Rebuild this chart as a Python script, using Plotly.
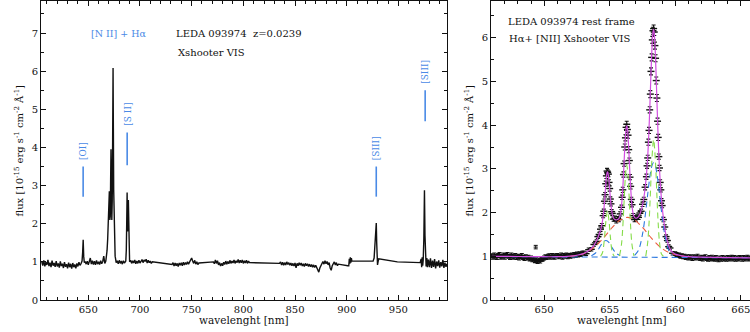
import numpy as np
import plotly.graph_objects as go

# ---------------- Xshooter VIS spectrum (observed frame) ----------------
z = 0.0239

cont_a = [1.01, 0.90, 1.04, 0.88, 0.99, 0.92, 1.05, 0.89, 0.98, 0.86, 1.03, 0.90, 0.97, 0.87,
          1.02, 0.88, 0.96, 0.85, 1.01, 0.89, 0.95, 0.84, 0.99, 0.87, 0.94, 0.83, 0.98, 0.86,
          0.95, 0.82, 0.97, 0.86, 0.93, 0.83, 0.96, 0.88, 0.99, 0.91]            # 605-642
oi_wave = [643.0, 644.0, 644.6, 645.1, 645.6, 646.2, 647.0]
oi_flux = [0.95, 1.02, 1.25, 1.58, 1.15, 0.98, 1.01]
cont_b = [0.94, 1.02, 0.92, 1.01, 1.10, 0.94, 1.03, 0.93, 1.02, 0.92, 1.04, 0.94, 1.00, 0.93,
          1.03, 0.95, 1.01, 1.15, 0.96, 1.02]                                      # 648-667
ha_obs_wave = [667.6, 668.2, 668.8, 669.4, 669.9, 670.4, 670.9, 671.3, 671.6, 672.0, 672.4,
               672.8, 673.2, 673.6, 674.0, 674.3, 674.6, 675.0, 675.5, 676.0, 676.6, 677.0]
ha_obs_flux = [1.12, 1.30, 1.60, 2.00, 2.40, 2.85, 2.10, 2.20, 3.00, 3.95, 2.90,
               2.10, 2.60, 4.20, 6.08, 4.50, 2.90, 2.00, 1.40, 1.15, 1.05, 0.98]
cont_c = [1.03, 0.95, 1.04, 0.96, 1.02, 0.94, 1.03, 0.97]                          # 678-685
sii_wave = [686.3, 686.8, 687.2, 687.6, 688.0, 688.4, 688.8, 689.2, 689.6, 690.0]
sii_flux = [1.02, 1.30, 2.00, 2.82, 1.80, 1.90, 2.62, 1.70, 1.15, 1.00]
cont_d = [1.04, 0.96, 1.03, 0.97, 1.05, 0.95, 1.02, 0.96, 1.04, 0.97, 1.01, 1.06, 0.98, 1.05,
          1.01, 1.07, 0.97, 1.04, 0.98, 1.02, 0.96, 1.00]                          # 691-712
cont_e = [0.93, 0.98, 0.89, 0.97, 0.90, 0.96, 0.88, 0.97, 0.91, 0.98, 0.90, 0.99, 0.92, 0.98,
          0.93, 1.00, 0.94, 1.01, 1.07, 1.10, 1.02, 0.96, 1.04, 0.94, 1.00, 0.93, 0.97]  # 731-757
cont_f = [1.00, 0.95, 1.05, 0.96, 1.03, 0.92, 0.98, 0.89, 0.96, 0.90, 0.99, 0.93, 1.02, 0.94,
          1.01, 0.95, 1.04, 0.96, 1.02, 0.97, 1.05, 0.96, 1.03, 0.98, 1.06, 0.97, 1.04, 0.98,
          1.05, 0.96, 1.03, 0.97, 1.04, 0.96, 1.02, 0.98]                          # 771-806
cont_g = [0.96, 1.00, 0.92, 0.99, 0.91, 0.98, 0.92, 1.00, 0.93, 0.98, 0.91, 0.97, 0.90, 0.96,
          0.89, 0.97, 0.84, 0.96, 0.90, 0.98, 0.91, 0.97, 0.89, 0.95, 0.88, 0.96, 0.90, 0.95,
          0.88, 0.94, 0.87, 0.93, 0.86, 0.92, 0.85, 0.91, 0.84, 0.80, 0.73, 0.84, 0.90, 0.96,
          1.01, 0.94, 1.03, 0.95, 1.01, 0.92, 0.98, 0.84, 0.78, 0.90, 0.96, 1.00, 0.92, 0.98,
          0.90, 0.94]                                                              # 835-892
red_wave = [901.0, 902.0, 902.5, 903.0, 903.5, 904.0, 904.5, 905.0, 906.0, 925.5, 926.5,
            927.0, 927.5, 928.0, 928.6, 929.0, 929.4, 929.8, 930.3, 931.0, 949.0, 971.0,
            972.0, 972.5, 973.0, 973.5, 974.0, 974.6, 975.2, 975.7, 976.2, 976.8, 977.5, 978.0]
red_flux = [0.90, 0.90, 1.08, 0.95, 1.12, 0.98, 1.10, 1.02, 1.02, 1.02, 1.10,
            1.30, 1.45, 1.60, 2.02, 1.50, 1.20, 0.92, 1.00, 1.08, 1.00, 0.98,
            1.08, 0.86, 1.12, 0.90, 1.05, 1.60, 2.88, 1.70, 1.15, 0.88, 1.10, 0.86]
cont_h = [1.06, 0.86, 1.09, 0.84, 1.03, 0.87, 1.07, 0.83, 1.01, 0.89, 1.04, 0.85, 0.99, 0.88,
          1.05, 0.84, 0.98, 0.87, 0.95]                                            # 979-997

vis_wave = (list(range(605, 643)) + oi_wave + list(range(648, 668)) + ha_obs_wave
            + list(range(678, 686)) + sii_wave + list(range(691, 713))
            + list(range(731, 758)) + list(range(771, 807)) + list(range(835, 893))
            + red_wave + list(range(979, 998)))
vis_flux = (cont_a + oi_flux + cont_b + ha_obs_flux + cont_c + sii_flux + cont_d
            + cont_e + cont_f + cont_g + red_flux + cont_h)

# emission-line identifications (rest wavelengths, nm)
ident_labels = ["[OI]", "[S II]", "[SIII]", "[SIII]"]
ident_rest_nm = [630.0, 671.6, 906.9, 953.1]

# ---------------- Halpha + [NII] region (rest frame) ----------------
blue_cont_left = [1.01, 0.98, 1.03, 1.00, 0.97, 1.02, 1.04, 0.98, 1.00, 1.03,
                  0.98, 1.02, 1.04, 1.00, 0.97, 1.03, 1.00, 0.98, 1.02, 0.97,
                  1.00, 0.96, 0.99, 1.02, 0.97, 0.95, 0.99, 0.96, 0.98, 0.94,
                  0.96, 0.92, 0.94, 0.90, 0.92, 0.88, 0.91, 0.89, 0.93, 0.94,
                  0.96, 0.99, 0.97, 1.00, 1.01, 0.98, 1.02, 0.99, 0.98, 1.01,
                  1.02, 0.99, 1.00, 1.03, 0.98, 1.02, 1.00, 1.03, 0.99, 1.02,
                  1.00, 1.03, 1.01, 1.04, 1.02, 1.05, 1.03, 1.06, 1.04, 1.07]   # 646.0-652.9
line_wave = [653.0, 653.2, 653.4, 653.6, 653.8, 654.0, 654.1, 654.2, 654.3, 654.4, 654.5,
             654.55, 654.6, 654.65, 654.7, 654.75, 654.8, 654.85, 654.9, 654.95, 655.0,
             655.05, 655.1, 655.15, 655.2, 655.3, 655.4, 655.5, 655.6, 655.7, 655.8, 655.9,
             655.95, 656.0, 656.05, 656.1, 656.15, 656.2, 656.25, 656.3, 656.35, 656.4,
             656.45, 656.5, 656.55, 656.6, 656.65, 656.7, 656.8, 656.9, 657.0, 657.1, 657.2,
             657.3, 657.4, 657.5, 657.6, 657.7, 657.8, 657.85, 657.9, 657.95, 658.0, 658.05,
             658.1, 658.15, 658.2, 658.25, 658.3, 658.35, 658.4, 658.45, 658.5, 658.55,
             658.6, 658.65, 658.7, 658.75, 658.8, 658.85, 658.9, 658.95, 659.0, 659.1, 659.2,
             659.3, 659.4, 659.5, 659.6, 659.8, 660.0]
line_flux = [1.08, 1.06, 1.15, 1.16, 1.27, 1.34, 1.45, 1.50, 1.62, 1.70, 1.93,
             2.03, 2.26, 2.41, 2.66, 2.84, 2.95, 2.92, 2.88, 2.69, 2.55,
             2.31, 2.20, 2.02, 1.98, 1.85, 1.87, 1.81, 1.86, 1.84, 1.97, 2.12,
             2.35, 2.52, 2.87, 3.12, 3.50, 3.71, 3.95, 4.02, 3.90, 3.77,
             3.44, 3.19, 2.81, 2.60, 2.30, 2.18, 1.93, 1.84, 1.85, 1.90, 1.89,
             1.99, 2.03, 2.19, 2.30, 2.58, 2.82, 3.07, 3.25, 3.61, 3.88, 4.35,
             4.71, 5.23, 5.55, 5.95, 6.16, 6.21, 6.13, 5.82, 5.53, 5.02,
             4.62, 4.09, 3.72, 3.28, 3.02, 2.69, 2.52, 2.27, 2.16, 1.84, 1.67,
             1.45, 1.36, 1.22, 1.19, 1.07, 1.06]
line_err = [0.04, 0.04, 0.04, 0.04, 0.04, 0.04, 0.04, 0.05, 0.05, 0.05, 0.05,
            0.05, 0.05, 0.05, 0.06, 0.06, 0.06, 0.06, 0.06, 0.06, 0.06,
            0.05, 0.05, 0.05, 0.05, 0.05, 0.05, 0.05, 0.05, 0.05, 0.05, 0.05,
            0.05, 0.06, 0.06, 0.06, 0.07, 0.07, 0.07, 0.07, 0.07, 0.07,
            0.07, 0.06, 0.06, 0.06, 0.05, 0.05, 0.05, 0.05, 0.05, 0.05, 0.05,
            0.05, 0.05, 0.05, 0.05, 0.06, 0.06, 0.06, 0.06, 0.07, 0.07, 0.07,
            0.08, 0.08, 0.08, 0.08, 0.08, 0.08, 0.08, 0.08, 0.08, 0.08,
            0.08, 0.07, 0.07, 0.06, 0.06, 0.06, 0.05, 0.05, 0.05, 0.05, 0.05,
            0.04, 0.04, 0.04, 0.04, 0.04, 0.04]
red_cont_right = [1.04, 1.02, 1.03, 1.00, 1.01, 0.99, 1.00, 0.97, 0.99,
                  0.96, 0.99, 0.98, 0.95, 0.99, 0.96, 0.98, 1.00, 0.96, 0.95,
                  0.98, 0.94, 0.97, 0.99, 0.95, 0.93, 0.97, 0.94, 0.98, 0.95,
                  0.93, 0.97, 0.94, 0.92, 0.96, 0.93, 0.97, 0.94, 0.96, 0.93,
                  0.97, 0.94, 0.96, 0.98, 0.94, 0.97, 0.93, 0.96, 0.94, 0.97,
                  0.96, 0.93, 0.97, 0.94, 0.96, 0.98, 0.94, 0.96]              # 660.1-665.7
cont_err = 0.045

# single representative error bar
ref_point_wave = [649.36]
ref_point_flux = [1.21]
ref_point_err = [0.04]

# fitted model: total profile and individual components
fit_wave = [646.0, 648.0, 650.0, 651.0, 652.0, 652.5] + line_wave + [660.5, 661.0, 662.0, 664.0, 666.0]
fit_flux = ([1.00, 0.995, 0.99, 0.99, 1.005, 1.024]
            + [1.06, 1.09, 1.13, 1.18, 1.25, 1.36, 1.43, 1.51, 1.60, 1.72, 1.91,
               2.05, 2.23, 2.43, 2.64, 2.81, 2.91, 2.93, 2.85, 2.71, 2.52,
               2.34, 2.17, 2.05, 1.96, 1.87, 1.84, 1.83, 1.84, 1.86, 1.94, 2.15,
               2.32, 2.55, 2.84, 3.16, 3.47, 3.74, 3.92, 3.99, 3.93, 3.74,
               3.47, 3.16, 2.84, 2.57, 2.33, 2.16, 1.96, 1.89, 1.87, 1.88, 1.91,
               1.96, 2.05, 2.17, 2.33, 2.55, 2.85, 3.04, 3.28, 3.57, 3.92, 4.32,
               4.75, 5.19, 5.59, 5.92, 6.13, 6.19, 6.10, 5.85, 5.49, 5.06,
               4.58, 4.12, 3.69, 3.31, 2.99, 2.72, 2.49, 2.30, 2.14, 1.86, 1.65,
               1.47, 1.34, 1.24, 1.17, 1.09, 1.05]
            + [1.01, 0.99, 0.98, 0.97, 0.965])

cont_fit_wave = [646.0, 666.0]
cont_fit_flux = [0.995, 0.965]

broad_ha_wave = [652.0, 653.0, 653.8, 654.5, 655.2, 655.8, 656.35, 656.9, 657.5, 658.2, 658.9, 659.7, 660.7]
broad_ha_flux = [1.00, 1.06, 1.20, 1.41, 1.66, 1.83, 1.89, 1.83, 1.66, 1.41, 1.20, 1.06, 1.00]

nii_a_blue_wave = [653.6, 653.9, 654.1, 654.3, 654.5, 654.7, 654.9, 655.1, 655.3, 655.5, 655.8]
nii_a_blue_flux = [1.01, 1.07, 1.14, 1.24, 1.33, 1.36, 1.33, 1.24, 1.14, 1.07, 1.01]
nii_b_blue_wave = [656.9, 657.2, 657.5, 657.7, 657.9, 658.1, 658.25, 658.35, 658.45, 658.6, 658.8, 659.0, 659.2, 659.5, 659.8]
nii_b_blue_flux = [1.02, 1.14, 1.50, 1.91, 2.42, 2.89, 3.10, 3.14, 3.10, 2.89, 2.42, 1.91, 1.50, 1.14, 1.02]

nii_a_green_wave = [654.3, 654.45, 654.6, 654.7, 654.83, 654.95, 655.05, 655.2, 655.35]
nii_a_green_flux = [1.00, 1.08, 1.41, 1.77, 2.04, 1.81, 1.45, 1.09, 1.00]
ha_green_wave = [655.75, 655.9, 656.0, 656.1, 656.2, 656.3, 656.4, 656.5, 656.6, 656.7, 656.85]
ha_green_flux = [1.01, 1.27, 1.67, 2.26, 2.84, 3.09, 2.84, 2.26, 1.67, 1.27, 1.01]
nii_b_green_wave = [657.75, 657.9, 658.0, 658.1, 658.2, 658.35, 658.5, 658.6, 658.7, 658.8, 658.95, 659.1]
nii_b_green_flux = [1.00, 1.32, 1.75, 2.40, 3.11, 3.67, 3.11, 2.40, 1.75, 1.32, 1.05, 1.00]

# ---------------- styling ----------------
BLACK = "#111111"
ID_BLUE = "#4a8ae6"
COMP_BLUE = "#2b78e0"
COMP_GREEN = "#86dc4a"
COMP_RED = "#ec5a3c"
FIT_MAGENTA = "#d24fe0"
SERIF = "DejaVu Serif"

fig = go.Figure()

fig.add_trace(go.Scatter(x=vis_wave, y=vis_flux, mode="lines",
                         line=dict(color=BLACK, width=1.4), xaxis="x", yaxis="y",
                         showlegend=False, hoverinfo="skip"))

cont_left_wave = np.round(np.arange(646.0, 652.95, 0.1), 2)
cont_right_wave = np.round(np.arange(660.1, 665.75, 0.1), 2)
obs_wave = list(cont_left_wave) + line_wave + list(cont_right_wave)
obs_flux = blue_cont_left + line_flux + red_cont_right
obs_err = [cont_err] * len(blue_cont_left) + line_err + [cont_err] * len(red_cont_right)

fig.add_trace(go.Scatter(
    x=obs_wave, y=obs_flux, mode="markers", xaxis="x2", yaxis="y2",
    marker=dict(symbol="line-ew", size=5, line=dict(color=BLACK, width=1.4), color=BLACK),
    error_y=dict(type="data", array=obs_err, color=BLACK, thickness=1.1, width=2),
    showlegend=False, hoverinfo="skip"))

fig.add_trace(go.Scatter(
    x=ref_point_wave, y=ref_point_flux, mode="markers", xaxis="x2", yaxis="y2",
    marker=dict(symbol="line-ew", size=3, line=dict(color=BLACK, width=1), color=BLACK),
    error_y=dict(type="data", array=ref_point_err, color=BLACK, thickness=1, width=2),
    showlegend=False, hoverinfo="skip"))

components = [
    (cont_fit_wave, cont_fit_flux, COMP_BLUE),
    (nii_a_blue_wave, nii_a_blue_flux, COMP_BLUE),
    (nii_b_blue_wave, nii_b_blue_flux, COMP_BLUE),
    (broad_ha_wave, broad_ha_flux, COMP_RED),
    (nii_a_green_wave, nii_a_green_flux, COMP_GREEN),
    (ha_green_wave, ha_green_flux, COMP_GREEN),
    (nii_b_green_wave, nii_b_green_flux, COMP_GREEN),
]
for wx, fy, col in components:
    fig.add_trace(go.Scatter(x=wx, y=fy, mode="lines", xaxis="x2", yaxis="y2",
                             line=dict(color=col, width=1.1, dash="6px,4px", shape="spline",
                                       smoothing=0.9),
                             showlegend=False, hoverinfo="skip"))

fig.add_trace(go.Scatter(x=fit_wave, y=fit_flux, mode="lines", xaxis="x2", yaxis="y2",
                         line=dict(color=FIT_MAGENTA, width=1.2, shape="spline", smoothing=0.6),
                         showlegend=False, hoverinfo="skip"))

tickfont = dict(family=SERIF, size=10, color=BLACK)


def axis(rng, dtick, minor_dtick, domain, anchor, mirror):
    return dict(range=rng, dtick=dtick, domain=domain, anchor=anchor,
                showline=True, linecolor=BLACK, linewidth=1, mirror=mirror,
                ticks="inside", ticklen=5, tickwidth=1, tickcolor=BLACK,
                minor=dict(ticks="inside", ticklen=3, dtick=minor_dtick, tickcolor=BLACK,
                           showgrid=False),
                showgrid=False, zeroline=False, tickfont=tickfont,
                ticklabeloverflow="allow")


fig.update_layout(
    width=750, height=332,
    margin=dict(l=0, r=0, t=1, b=32),
    plot_bgcolor="white", paper_bgcolor="white",
    xaxis=axis([604.3, 997.0], 50, 10, [41 / 750, 447 / 750], "y", "ticks"),
    yaxis=axis([0, 7.84], 1, 0.5, [0, 1], "x", "ticks"),
    xaxis2=axis([645.95, 665.7], 5, 1, [491 / 750, 1.0], "y2", "ticks"),
    yaxis2=axis([0, 6.84], 1, 0.5, [0, 1], "x2", False),
)

annotations = []
shapes = []

# line identifications on the full spectrum
bar_span = [(2.71, 3.50), (3.53, 4.39), (2.71, 3.50), (4.69, 5.50)]
for label, rest, (y0, y1) in zip(ident_labels, ident_rest_nm, bar_span):
    w_obs = rest * (1 + z)
    shapes.append(dict(type="line", xref="x", yref="y", x0=w_obs, x1=w_obs, y0=y0, y1=y1,
                       line=dict(color=ID_BLUE, width=1.6)))
    annotations.append(dict(x=w_obs, y=y1 + 0.12, xref="x", yref="y", text=label,
                            textangle=-90, showarrow=False, xanchor="center", yanchor="bottom",
                            font=dict(family=SERIF, size=9, color=ID_BLUE)))

annotations += [
    dict(x=650.7, y=7.0, xref="x", yref="y", text="[N II] + H\u03b1", showarrow=False,
         xanchor="left", yanchor="middle", font=dict(family=SERIF, size=9.5, color=ID_BLUE)),
    dict(x=732.9, y=6.99, xref="x", yref="y", text=f"LEDA 093974  z={z:.4f}", showarrow=False,
         xanchor="left", yanchor="middle", font=dict(family=SERIF, size=10, color=BLACK)),
    dict(x=734.4, y=6.49, xref="x", yref="y", text="Xshooter VIS", showarrow=False,
         xanchor="left", yanchor="middle", font=dict(family=SERIF, size=10, color=BLACK)),
    dict(x=647.09, y=6.37, xref="x2", yref="y2", text="LEDA 093974 rest frame", showarrow=False,
         xanchor="left", yanchor="middle", font=dict(family=SERIF, size=10, color=BLACK)),
    dict(x=647.14, y=5.99, xref="x2", yref="y2", text="H\u03b1+ [NII] Xshooter VIS",
         showarrow=False, xanchor="left", yanchor="middle",
         font=dict(family=SERIF, size=10, color=BLACK)),
]

ytitle = "flux [10<sup>-15</sup> erg s<sup>-1</sup> cm<sup>-2</sup> \u00c5<sup>-1</sup>]"
for xp in (18 / 750, 468 / 750):
    annotations.append(dict(x=xp, y=0.5, xref="paper", yref="paper", text=ytitle,
                            textangle=-90, showarrow=False, xanchor="center", yanchor="middle",
                            font=dict(family=SERIF, size=10, color=BLACK)))
for xp in (244 / 750, 622 / 750):
    annotations.append(dict(x=xp, y=-0.067, xref="paper", yref="paper", text="wavelenght [nm]",
                            showarrow=False, xanchor="center", yanchor="middle",
                            font=dict(family=SERIF, size=10.5, color=BLACK)))

fig.update_layout(annotations=annotations, shapes=shapes)
fig.write_html("out.html")
